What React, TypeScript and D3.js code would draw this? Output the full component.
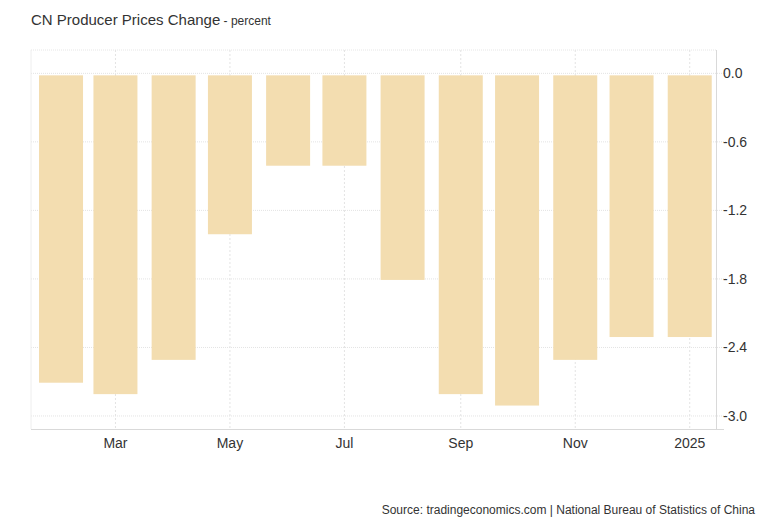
import React, { useEffect, useRef } from 'react';
import * as d3 from 'd3';

// monthly PPI change, Feb 2024 .. Jan 2025
const months = [
  '2024-02', '2024-03', '2024-04', '2024-05', '2024-06', '2024-07',
  '2024-08', '2024-09', '2024-10', '2024-11', '2024-12', '2025-01',
];
const values = [-2.7, -2.8, -2.5, -1.4, -0.8, -0.8, -1.8, -2.8, -2.9, -2.5, -2.3, -2.3];
const yTicks = [0, -0.6, -1.2, -1.8, -2.4, -3.0];
const xTickMonths = ['2024-03', '2024-05', '2024-07', '2024-09', '2024-11', '2025-01'];

const parse = d3.timeParse('%Y-%m');

const App: React.FC = () => {
  const svgRef = useRef<SVGSVGElement>(null);

  useEffect(() => {
    if (!svgRef.current) return;
    const svg = d3.select(svgRef.current);
    svg.selectAll('*').remove();

    const left = 31, right = 716, top = 50, bottom = 429;
    const font = "'Liberation Sans', Arial, sans-serif";

    const x = d3.scaleTime()
      .domain([new Date(2024, 0, 16), new Date(2025, 0, 15)])
      .range([left, right]);
    const y = d3.scaleLinear().domain([0.2, -3.114]).range([top + 0.5, bottom]);

    const barW = 44;

    // grid
    const grid = svg.append('g');
    yTicks.forEach(t => {
      grid.append('line')
        .attr('x1', left).attr('x2', right + 10)
        .attr('y1', y(t)).attr('y2', y(t))
        .style('stroke', '#e3e3e3').style('stroke-dasharray', '1,1');
    });
    grid.append('line')
      .attr('x1', left).attr('x2', right)
      .attr('y1', top).attr('y2', top)
      .style('stroke', '#e6e6e6').style('stroke-dasharray', '1,1');
    xTickMonths.forEach(m => {
      const xx = x(parse(m)!);
      grid.append('line')
        .attr('x1', xx).attr('x2', xx)
        .attr('y1', top).attr('y2', bottom)
        .style('stroke', '#e3e3e3').style('stroke-dasharray', '2,2');
    });
    grid.append('line')
      .attr('x1', left).attr('x2', left)
      .attr('y1', top).attr('y2', bottom)
      .style('stroke', '#eeeeee');

    // bars (small gap below the zero line, as in the source)
    svg.append('g').selectAll('rect')
      .data(months.map((m, i) => ({ d: parse(m)!, v: values[i] })))
      .join('rect')
      .attr('x', d => x(d.d) - barW / 2)
      .attr('y', y(0) + 2)
      .attr('width', barW)
      .attr('height', d => y(d.v) - y(0) - 1)
      .style('fill', '#f3ddb0');

    // axes lines
    svg.append('line')
      .attr('x1', left).attr('x2', right + 8)
      .attr('y1', bottom + 0.5).attr('y2', bottom + 0.5)
      .style('stroke', '#d9d9d9');
    svg.append('line')
      .attr('x1', right + 0.5).attr('x2', right + 0.5)
      .attr('y1', top).attr('y2', bottom)
      .style('stroke', '#d9d9d9');

    // y labels
    yTicks.forEach(t => {
      svg.append('text')
        .attr('x', 723)
        .attr('y', y(t) + 5)
        .style('font-family', font)
        .style('font-size', '14px')
        .style('fill', '#333')
        .text(t.toFixed(1));
    });

    // x labels
    const fmt = (d: Date) => d.getMonth() === 0 ? d3.timeFormat('%Y')(d) : d3.timeFormat('%b')(d);
    xTickMonths.forEach(m => {
      const d = parse(m)!;
      svg.append('text')
        .attr('x', x(d))
        .attr('y', 448)
        .style('text-anchor', 'middle')
        .style('font-family', font)
        .style('font-size', '14px')
        .style('fill', '#333')
        .text(fmt(d));
    });

    // title
    const title = svg.append('text')
      .attr('x', 31)
      .attr('y', 25)
      .style('font-family', font)
      .style('fill', '#333');
    title.append('tspan').style('font-size', '15px').text('CN Producer Prices Change');
    title.append('tspan').style('font-size', '12px').text(' - percent');

    // source
    svg.append('text')
      .attr('x', 755)
      .attr('y', 514)
      .style('text-anchor', 'end')
      .style('font-family', font)
      .style('font-size', '12px')
      .style('fill', '#333')
      .text('Source: tradingeconomics.com | National Bureau of Statistics of China');
  }, []);

  return (
    <svg
      ref={svgRef}
      width={768}
      height={525}
      style={{ position: 'absolute', left: 0, top: 0, background: '#fff' }}
    />
  );
};

export default App;
